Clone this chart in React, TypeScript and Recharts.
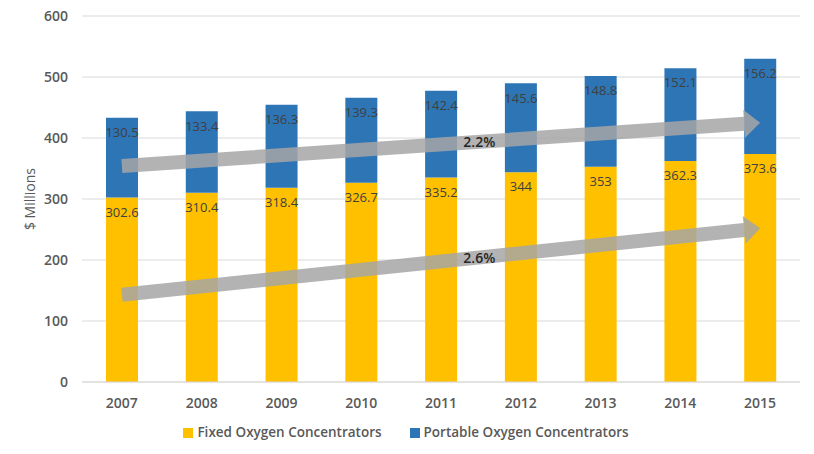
import React from 'react';
import {
  BarChart,
  Bar,
  XAxis,
  YAxis,
  CartesianGrid,
  Legend,
  LabelList,
  ReferenceLine
} from 'recharts';

const years = ['2007', '2008', '2009', '2010', '2011', '2012', '2013', '2014', '2015'];
const fixedValues = [302.6, 310.4, 318.4, 326.7, 335.2, 344, 353, 362.3, 373.6];
const portableValues = [130.5, 133.4, 136.3, 139.3, 142.4, 145.6, 148.8, 152.1, 156.2];
const yTicks = [0, 100, 200, 300, 400, 500, 600];

// trend arrows: start / end level and the growth label
const portableTrend = { label: '2.2%', from: 354, to: 425 };
const fixedTrend = { label: '2.6%', from: 143, to: 252 };

const data = years.map((year, i) => ({
  year,
  fixed: fixedValues[i],
  portable: portableValues[i]
}));

const font = '"Open Sans", "Noto Sans", sans-serif';
const gray = '#595959';

const arrowShape = (label: string) => (props: any) => {
  const { x1, y1, x2, y2 } = props;
  const dx = x2 - x1;
  const dy = y2 - y1;
  const len = Math.hypot(dx, dy);
  const ux = dx / len;
  const uy = dy / len;
  const nx = -uy;
  const ny = ux;
  const half = 7;
  const headHalf = 14;
  const headLen = 16;
  const bx = x2 - ux * headLen;
  const by = y2 - uy * headLen;
  const pts = [
    [x1 + nx * half, y1 + ny * half],
    [bx + nx * half, by + ny * half],
    [bx + nx * headHalf, by + ny * headHalf],
    [x2, y2],
    [bx - nx * headHalf, by - ny * headHalf],
    [bx - nx * half, by - ny * half],
    [x1 - nx * half, y1 - ny * half]
  ]
    .map((p) => p.join(','))
    .join(' ');
  const t = 0.56;
  return (
    <g>
      <polygon points={pts} fill="#a6a6a6" fillOpacity={0.85} />
      <text
        x={x1 + dx * t}
        y={y1 + dy * t}
        textAnchor="middle"
        dominantBaseline="central"
        fontFamily={font}
        fontSize={14}
        fontWeight={600}
        fill="#262626"
      >
        {label}
      </text>
    </g>
  );
};

export default function App() {
  return (
    <div style={{ position: 'absolute', left: 0, top: 0 }}>
      <BarChart
        width={814}
        height={454}
        data={data}
        margin={{ top: 16, right: 14, left: 0, bottom: 9 }}
        barSize={32}
      >
        <CartesianGrid vertical={false} stroke="#d9d9d9" />
        <XAxis
          dataKey="year"
          tickLine={false}
          axisLine={{ stroke: '#d9d9d9' }}
          tickMargin={10}
          height={37}
          tick={{ fill: gray, fontSize: 14, fontWeight: 600, fontFamily: font }}
        />
        <YAxis
          domain={[0, 600]}
          ticks={yTicks}
          width={82}
          tickLine={false}
          axisLine={false}
          tickMargin={8}
          tick={{ fill: gray, fontSize: 14, fontWeight: 600, fontFamily: font }}
          label={{
            value: '$ Millions',
            angle: -90,
            position: 'center',
            dx: -11,
            fill: gray,
            fontSize: 14,
            fontFamily: font
          }}
        />
        <Legend
          verticalAlign="bottom"
          iconType="square"
          iconSize={10}
          height={26}
          wrapperStyle={{ marginLeft: 20, bottom: 5 }}
          formatter={(value) => (
            <span style={{ color: gray, fontSize: 13.5, fontWeight: 600, fontFamily: font, marginRight: 18 }}>
              {value}
            </span>
          )}
        />
        <Bar dataKey="fixed" name="Fixed Oxygen Concentrators" stackId="a" fill="#FFC000" isAnimationActive={false}>
          <LabelList dataKey="fixed" position="insideTop" offset={10} fill="#404040" fontSize={13} fontFamily={font} />
        </Bar>
        <Bar dataKey="portable" name="Portable Oxygen Concentrators" stackId="a" fill="#2E75B6" isAnimationActive={false}>
          <LabelList dataKey="portable" position="insideTop" offset={10} fill="#404040" fontSize={13} fontFamily={font} />
        </Bar>
        <ReferenceLine
          segment={[
            { x: years[0], y: portableTrend.from },
            { x: years[years.length - 1], y: portableTrend.to }
          ]}
          shape={arrowShape(portableTrend.label)}
        />
        <ReferenceLine
          segment={[
            { x: years[0], y: fixedTrend.from },
            { x: years[years.length - 1], y: fixedTrend.to }
          ]}
          shape={arrowShape(fixedTrend.label)}
        />
      </BarChart>
    </div>
  );
}
